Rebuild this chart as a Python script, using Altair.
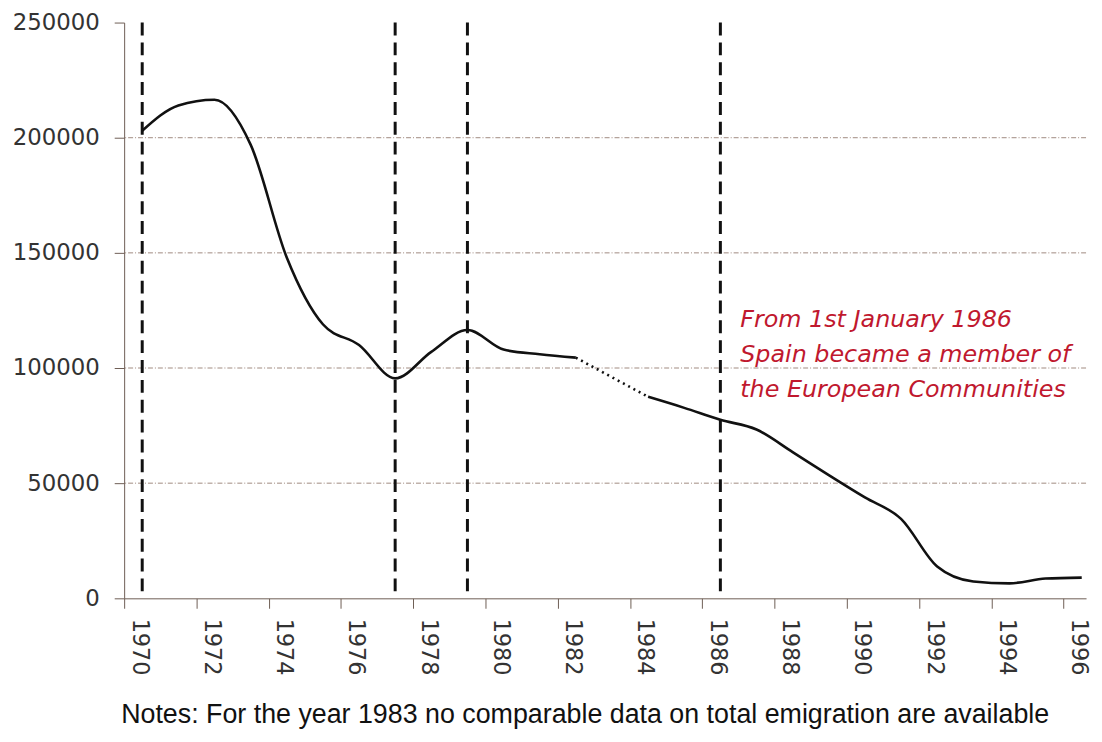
import altair as alt
import pandas as pd

# ---- data ----
years = list(range(1970, 1997))
emigrants = [203000, 214000, 216500, 197000, 148000, 119000, 110000, 95500,
             107000, 116500, 108000, 106000, 104500, None, 87500, 82700,
             77500, 73300, 63500, 53500, 43800, 34500, 13800, 7300,
             6500, 8600, 9000]
event_years = [1970, 1977, 1979, 1986]
grid_values = [50000, 100000, 150000, 200000]
y_ticks = [0, 50000, 100000, 150000, 200000, 250000]
annotation_lines = ["From 1st January 1986",
                    "Spain became a member of",
                    "the European Communities"]
annotation_year = 1986.55
annotation_value = 121000
note = "Notes: For the year 1983 no comparable data on total emigration are available"

# ---- tables ----
rows = []
for yr, v in zip(years, emigrants):
    if v is None:
        continue
    rows.append({"year": yr, "value": v, "seg": "a" if yr < 1983 else "b"})
line_df = pd.DataFrame(rows)
gap_df = line_df[line_df["year"].isin([1982, 1984])]
events_df = pd.DataFrame({"year": event_years})
grid_df = pd.DataFrame({"value": grid_values})
ann_df = pd.DataFrame({"year": [annotation_year], "value": [annotation_value],
                       "text": [annotation_lines]})

AX = "#6e5e55"
x_scale = alt.Scale(domain=[1969.5, 1996.12], nice=False, zero=False)
y_scale = alt.Scale(domain=[0, 250000], nice=False)

x_axis = alt.Axis(values=years, format="d", tickOffset=-18.2, labelOffset=15,
                  labelExpr="datum.value % 2 == 0 ? datum.label : ''",
                  labelAngle=90, labelFlush=False, labelOverlap=False,
                  labelBound=False, grid=False, title=None, tickSize=10,
                  labelPadding=10, labelFont="DejaVu Sans", labelFontSize=22.5,
                  labelColor="#333333", domainColor=AX, tickColor=AX)
y_axis = alt.Axis(values=y_ticks, format="d", grid=False, title=None,
                  tickSize=10, labelPadding=15, labelFont="DejaVu Sans",
                  labelFontSize=23, labelColor="#333333", domainColor=AX,
                  tickColor=AX)

grid = alt.Chart(grid_df).mark_rule(color="#a08a80", strokeWidth=1,
                                    strokeDash=[5, 2, 1, 2]).encode(
    y=alt.Y("value:Q", scale=y_scale, axis=y_axis)
)

events = alt.Chart(events_df).mark_rule(color="#111111", strokeWidth=3,
                                        strokeDash=[13, 7]).encode(
    x=alt.X("year:Q", scale=x_scale, axis=x_axis)
)

solid = alt.Chart(line_df).mark_line(color="#111111", strokeWidth=2.6,
                                     interpolate="monotone").encode(
    x=alt.X("year:Q", scale=x_scale, axis=x_axis),
    y=alt.Y("value:Q", scale=y_scale, axis=y_axis),
    detail="seg:N",
)

dotted = alt.Chart(gap_df).mark_line(color="#111111", strokeWidth=2.6,
                                     strokeDash=[2, 4]).encode(
    x=alt.X("year:Q", scale=x_scale, axis=x_axis),
    y=alt.Y("value:Q", scale=y_scale, axis=y_axis),
)

ann = alt.Chart(ann_df).mark_text(align="left", baseline="middle",
                                  font="DejaVu Sans", fontStyle="italic",
                                  fontSize=24, lineHeight=35.5,
                                  color="#c0182e").encode(
    x=alt.X("year:Q", scale=x_scale),
    y=alt.Y("value:Q", scale=y_scale),
    text="text",
)

chart = alt.layer(grid, events, solid, dotted, ann).properties(
    width=969, height=580,
    autosize=alt.AutoSizeParams(type="none"),
    padding={"left": 117, "top": 12, "right": 8, "bottom": 132},
    title=alt.TitleParams(note, orient="bottom", anchor="start", frame="group",
                          dx=-3, offset=27, font="Liberation Sans", fontSize=27,
                          fontWeight="normal", color="#111111"),
).configure_view(stroke=None)

chart.save("out.html", embed_options={"renderer": "svg", "actions": False})
